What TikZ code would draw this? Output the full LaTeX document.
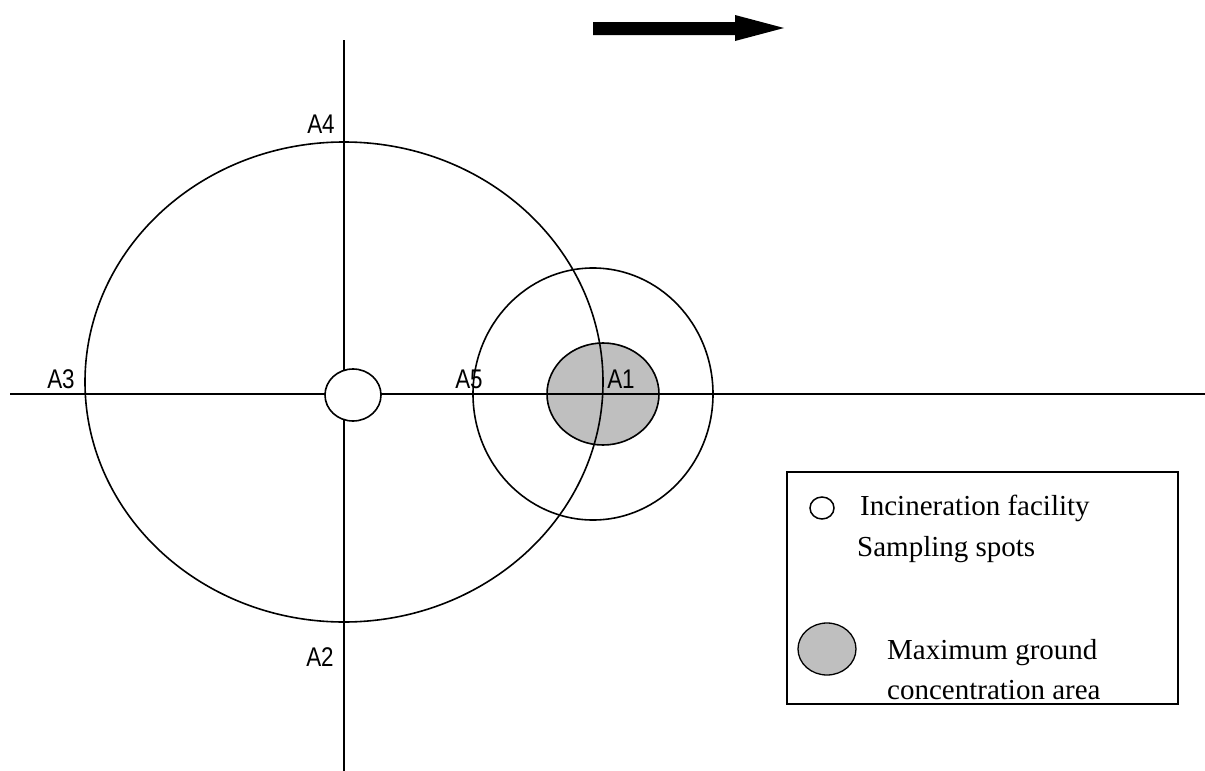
\documentclass[tikz,border=0pt]{standalone}
\usepackage{fontspec}
\setmainfont{Liberation Serif}
\newfontfamily\lblfont{Liberation Sans}
\begin{document}
\begin{tikzpicture}[x=1pt,y=-1pt,
  ln/.style={line width=1.6pt},
  lbl/.style={font=\lblfont\fontsize{27}{29}\selectfont, inner sep=0pt, xscale=0.83},
  legtxt/.style={font=\fontsize{29}{32}\selectfont, inner sep=0pt, anchor=west}]
\useasboundingbox (0,0) rectangle (1205,771);
% axes
\coordinate (hL) at (10,394);
\coordinate (hR) at (1205,394);
\coordinate (vT) at (344,40);
\coordinate (vB) at (344,771);
\draw[ln] (hL) -- (hR);
\draw[ln] (vT) -- (vB);
% large ellipse
\draw[ln] (344,382) ellipse [x radius=259, y radius=240];
% medium circle
\draw[ln] (593,394) ellipse [x radius=120, y radius=126];
% gray max area
\draw[ln, fill=gray!50] (603,394) ellipse [x radius=56, y radius=51];
\draw[ln] (hL) -- (hR);
\begin{scope}
\clip (603,394) ellipse [x radius=56, y radius=51];
\draw[ln] (344,382) ellipse [x radius=259, y radius=240];
\end{scope}
% facility
\draw[ln, fill=white] (353,395) ellipse [x radius=28, y radius=26];
% labels
\node[lbl] (A4) at (321,124) {A4};
\node[lbl] (A3) at (61,379) {A3};
\node[lbl] (A2) at (320,657) {A2};
\node[lbl] (A5) at (469,379) {A5};
\node[lbl] (A1) at (621,379) {A1};
% wind arrow
\fill (593,22) -- (735,22) -- (735,15) -- (784,28) -- (735,41) -- (735,35) -- (593,35) -- cycle;
% legend
\draw[line width=1.3pt] (787,472) rectangle (1178,704);
\draw[line width=1.5pt] (822,508) ellipse [x radius=12, y radius=11];
\node[legtxt] (t1) at (860,508) {Incineration facility};
\node[legtxt] (t2) at (857,550) {Sampling spots};
\draw[line width=1.3pt, fill=gray!50] (827,649) ellipse [x radius=29, y radius=26];
\node[legtxt] (t3) at (887,653) {Maximum ground};
\node[legtxt] (t4) at (887,690) {concentration area};
\end{tikzpicture}
\end{document}
